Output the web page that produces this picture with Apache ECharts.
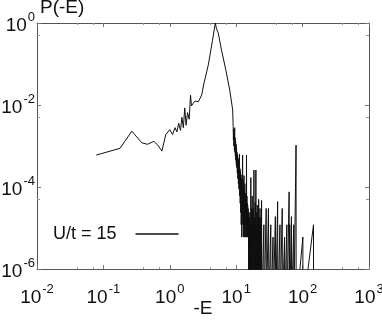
<!DOCTYPE html>
<html>
<head>
<meta charset="utf-8">
<script src="https://cdn.jsdelivr.net/npm/echarts@6/dist/echarts.min.js"></script>
<style>
  html, body { margin: 0; padding: 0; background: #fff; }
  #chart { width: 382px; height: 321px; }
</style>
</head>
<body>
<div id="chart"></div>
<script>
// -E and P(-E). 1e-7 marks an empty bin (below the axis)
var energy = [
  0.078, 0.178, 0.268, 0.378, 0.46, 0.575, 0.66, 0.76, 0.87, 1.0,
  1.1, 1.2, 1.28, 1.36, 1.45, 1.52, 1.6, 1.68, 1.76, 1.85,
  1.96, 2.05, 2.12, 2.25, 2.4, 2.69, 3.02, 3.27, 3.8, 4.4,
  4.85, 5.05, 5.35, 6.0, 7.0, 8.0, 8.85,
  9.0, 9.08, 9.16, 9.24, 9.32, 9.4, 9.48, 9.56, 9.64, 9.72,
  9.8, 9.88, 9.96, 10.04, 10.12, 10.2, 10.3, 10.4, 10.5, 10.6,
  10.7, 10.8, 10.9, 11.0, 11.1, 11.2, 11.3, 11.4, 11.5, 11.6,
  11.7, 11.8, 11.9, 12.0, 12.1, 12.2, 12.3, 12.4, 12.5, 12.6,
  12.7, 12.8, 12.9, 13.0, 13.1, 13.2, 13.3, 13.4, 13.5, 13.6,
  13.7, 13.8, 13.9, 14.0, 14.1, 14.2, 14.3, 14.4, 14.5, 14.6,
  14.7, 14.8, 14.9, 15.0, 15.1, 15.2, 15.3, 15.4,
  15.5, 15.6, 15.75, 15.85, 15.95, 16.1, 16.2, 16.35, 16.45, 16.6,
  16.7, 16.8, 16.95, 17.05, 17.2, 17.3, 17.4, 17.5, 17.65, 17.75,
  17.9, 18.0, 18.2, 18.3, 18.5, 18.6, 18.75, 18.85, 19.0, 19.1,
  19.3, 19.4, 19.5, 19.8, 19.9, 20.1, 20.2, 20.45, 20.55, 20.75,
  20.85, 20.95, 21.2, 21.3, 21.5, 21.6, 21.8, 21.9, 22.15, 22.25,
  22.5, 22.6, 22.85, 22.95, 23.2, 23.3, 23.6, 23.7, 24.1, 24.2,
  24.3,
  26.1, 26.3, 28.3, 28.5, 30.6, 30.8, 31.0, 33.2, 33.4, 35.9,
  36.1, 38.9, 39.1, 39.3, 42.1, 42.3, 45.6, 45.8, 49.4, 49.6,
  53.5, 53.7, 57.9, 58.1, 62.7, 62.9, 64.0, 64.2, 67.9, 68.1,
  68.3, 73.6, 73.8, 79.7, 79.9, 101, 101.2, 146, 146.2
];
var prob = [
  6e-4, 8.8e-4, 2.3e-3, 1.2e-3, 1.1e-3, 1.3e-3, 1.05e-3, 7.5e-4, 1.9e-3, 2.5e-3,
  1.9e-3, 2.8e-3, 2.2e-3, 3.6e-3, 2.4e-3, 5e-3, 2.8e-3, 8.5e-3, 3.2e-3, 6.5e-3,
  4.5e-3, 0.0175, 0.0095, 0.011, 0.0125, 0.012, 0.0175, 0.034, 0.095, 0.38,
  1.0, 0.72, 0.58, 0.22, 0.07, 0.023, 7.6e-3,
  3.0e-3, 1.4e-3, 2.6e-3, 1.0e-3, 2.2e-3, 8e-4, 2.8e-3, 7e-4, 1.6e-3, 5.5e-4,
  1.3e-3, 4.5e-4, 1.1e-3, 3.5e-4, 9e-4, 3e-4, 7e-4, 2.2e-4, 6e-4, 1.6e-4,
  5e-4, 1.2e-4, 4.5e-4, 9e-5, 3.5e-4, 6.4e-4, 6e-5, 2.8e-4, 4e-5, 2.4e-4,
  2.4e-5, 2e-4, 1.2e-5, 1.6e-4, 6e-6, 1.2e-4, 1.8e-5, 2.5e-4, 6e-4, 1.2e-5,
  1.5e-4, 6e-6, 1e-4, 2.4e-5, 1.9e-4, 6e-6, 8e-5, 1.2e-5, 1.2e-4, 6e-6,
  6e-5, 1.2e-5, 7e-5, 6e-6, 4.8e-5, 1.2e-5, 6e-4, 6e-6, 6e-5, 1.2e-5,
  4e-5, 6e-6, 3.6e-5, 1.2e-5, 3e-5, 6e-6, 2.4e-5, 1e-7,
  1.2e-5, 1e-7, 1.8e-5, 6e-6, 1e-7, 2.4e-5, 1e-7, 1.2e-5, 1e-7, 1.7e-4,
  6e-6, 1e-7, 1.8e-5, 1e-7, 3e-5, 6e-6, 6e-5, 1e-7, 1.2e-5, 1e-7,
  2.4e-5, 1e-7, 3e-5, 6e-6, 2.6e-4, 1e-7, 1.2e-5, 1e-7, 1.8e-5, 1e-7,
  4.2e-5, 6e-6, 1e-7, 2.6e-4, 1e-7, 1.2e-5, 1e-7, 2.4e-5, 1e-7, 3.6e-5,
  6e-6, 1e-7, 1.8e-5, 1e-7, 1.2e-5, 1e-7, 5e-5, 1e-7, 1.2e-5, 1e-7,
  1.8e-5, 1e-7, 3e-5, 1e-7, 1.2e-5, 1e-7, 1.8e-5, 1e-7, 4.7e-5, 6e-6,
  1e-7,
  1.2e-5, 1e-7, 3e-5, 1e-7, 3e-5, 6e-6, 1e-7, 1.2e-5, 1e-7, 6e-6,
  1e-7, 1.9e-5, 6e-6, 1e-7, 4.4e-5, 1e-7, 1.2e-5, 1e-7, 3e-5, 1e-7,
  6e-6, 1e-7, 1.2e-5, 1e-7, 7.6e-5, 1e-7, 1.2e-5, 1e-7, 1.9e-5, 6e-6,
  1e-7, 1.2e-5, 1e-7, 1.05e-3, 1e-7, 6e-6, 1e-7, 1.2e-5, 1e-7
];
var xExponents = [-2, -1, 0, 1, 2, 3];
var yExponents = [-6, -4, -2, 0];

var FONT = 'Liberation Sans';
var frame = '#555';

var points = energy.map(function (e, i) { return [e, prob[i]]; });

function powLabel(v) {
  var e = Math.round(Math.log(v) / Math.LN10);
  return '{b|10}{s|' + e + '}';
}
function labelRich(padTop) {
  return {
    b: { fontSize: 19, fontFamily: FONT, color: '#111', lineHeight: 24, verticalAlign: 'bottom', padding: [padTop, 0, 0, 0] },
    s: { fontSize: 13, fontFamily: FONT, color: '#111', verticalAlign: 'top', padding: [0, 0, 0, 1] }
  };
}

function xAx(pos, show) {
  return {
    type: 'log', position: pos, logBase: 10,
    min: Math.pow(10, xExponents[0]), max: Math.pow(10, xExponents[xExponents.length - 1]),
    axisLine: { show: true, onZero: false, lineStyle: { color: frame, width: 1 } },
    axisTick: { show: true, inside: true, length: 4, lineStyle: { color: '#777' } },
    minorTick: { show: true, splitNumber: 3, length: 2, lineStyle: { color: '#999' } },
    axisLabel: { show: show, margin: 14, formatter: powLabel, rich: labelRich(0) },
    splitLine: { show: false },
    name: show ? '-E' : '', nameLocation: 'middle', nameGap: 30, nameMoveOverlap: false,
    nameTextStyle: { fontSize: 19, fontFamily: FONT, color: '#111' }
  };
}
function yAx(pos, show) {
  return {
    type: 'log', position: pos, logBase: 100,
    min: Math.pow(10, yExponents[0]), max: Math.pow(10, yExponents[yExponents.length - 1]),
    axisLine: { show: true, onZero: false, lineStyle: { color: frame, width: 1 } },
    axisTick: { show: true, inside: true, length: 4, lineStyle: { color: '#777' } },
    minorTick: { show: true, splitNumber: 2, length: 3, lineStyle: { color: '#999' } },
    axisLabel: { show: show, margin: 2, formatter: powLabel, rich: labelRich(5) },
    splitLine: { show: false },
    name: show ? 'P(-E)' : '', nameLocation: 'end', nameGap: 2, nameMoveOverlap: false,
    nameTextStyle: {
      fontSize: 19, fontFamily: FONT, color: '#111', align: 'left',
      verticalAlign: 'bottom', padding: [0, 0, 4, 3]
    }
  };
}

var chart = echarts.init(document.getElementById('chart'));
chart.setOption({
  animation: false,
  backgroundColor: '#fff',
  grid: { left: 37, right: 13, top: 23, bottom: 52, containLabel: false, outerBoundsMode: 'none' },
  legend: {
    data: ['U/t = 15'], left: 48, top: 220, align: 'right',
    icon: 'rect', itemWidth: 43, itemHeight: 1.5,
    textStyle: { fontSize: 18, fontFamily: FONT, color: '#111', padding: [0, 14, 4, 0] }
  },
  xAxis: [xAx('bottom', true), xAx('top', false)],
  yAxis: [yAx('left', true), yAx('right', false)],
  series: [{
    name: 'U/t = 15', type: 'line', xAxisIndex: 0, yAxisIndex: 0,
    data: points, symbol: 'none', clip: true,
    lineStyle: { color: '#111', width: 1 }, itemStyle: { color: '#111' }
  }]
});
</script>
</body>
</html>
